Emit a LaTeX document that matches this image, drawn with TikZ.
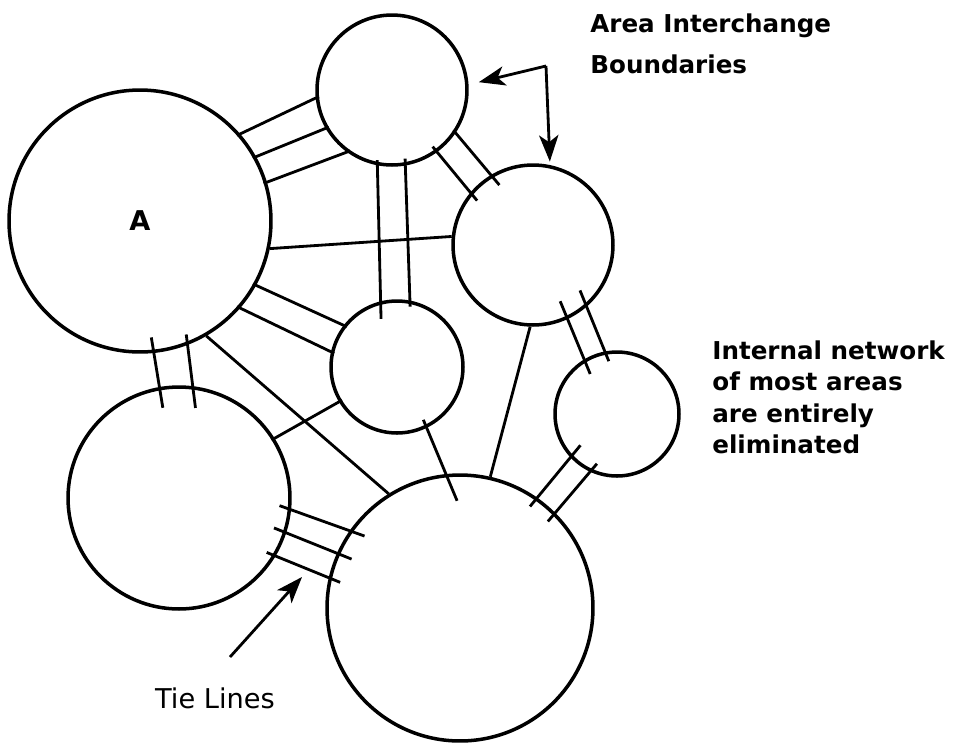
\documentclass[tikz,border=0pt]{standalone}
\usepackage{fontspec}
\setmainfont{DejaVu Sans}
\usepackage{xcolor}
\usepackage{tikz}
\usetikzlibrary{arrows.meta}

\begin{document}
\begin{tikzpicture}[x=0.02cm, y=-0.02cm,
  area/.style={draw, circle, line width=2pt, inner sep=0pt, minimum size=#1},
  tie/.style 2 args={line width=1.6pt, shorten <=-#1, shorten >=-#2},
  link/.style={line width=1.6pt},
  pointer/.style={line width=1.6pt, -{Stealth[length=15pt, width=11pt, inset=4pt]}},
  label/.style={font=\bfseries\fontsize{14}{#1}\selectfont, align=left, inner sep=0pt, anchor=north west}]
\useasboundingbox (0,0) rectangle (953,745);

% areas
\node[area=5.24cm, font=\bfseries\fontsize{15.5}{18}\selectfont] (A) at (140,221) {A};
\node[area=3.0cm] (T) at (392,90) {};
\node[area=3.2cm] (R) at (533,245) {};
\node[area=2.64cm] (M) at (397,367) {};
\node[area=2.48cm] (S) at (617,414) {};
\node[area=4.44cm] (L) at (179,498) {};
\node[area=5.32cm] (B) at (460,608) {};

% tie lines
\draw[tie={2pt}{2pt}] (A.41) -- (T.186);
\draw[tie={2pt}{2pt}] (A.29) -- (T.210);
\draw[tie={2pt}{2pt}] (A.17) -- (T.234);
\draw[link] (A.348) -- (R.174);
\draw[tie={2pt}{7.5pt}] (T.326) -- (R.121);
\draw[tie={4pt}{6pt}] (T.306) -- (R.140);
\draw[tie={3pt}{10pt}] (T.259) -- (M.104);
\draw[tie={4pt}{3.5pt}] (T.280) -- (M.79);
\draw[tie={2pt}{2pt}] (A.331) -- (M.142);
\draw[tie={2pt}{2pt}] (A.319) -- (M.167);
\draw[tie={9pt}{12pt}] (A.276) -- (L.100);
\draw[tie={6pt}{12.5pt}] (A.291) -- (L.83);
\draw[link] (A.300) -- (B.122);
\draw[tie={2pt}{2pt}] (L.32) -- (M.211);
\draw[tie={5pt}{16.5pt}] (M.296) -- (B.96);
\draw[link] (R.268) -- (B.77);
\draw[tie={11pt}{9pt}] (R.295) -- (S.121);
\draw[tie={10pt}{6pt}] (R.311) -- (S.101);
\draw[tie={9pt}{6.5pt}] (S.223) -- (B.55);
\draw[tie={6pt}{6.5pt}] (S.245) -- (B.45);
\draw[tie={7pt}{9pt}] (L.354) -- (B.145);
\draw[tie={7.5pt}{9pt}] (L.342) -- (B.156);
\draw[tie={5.5pt}{7pt}] (L.329) -- (B.167);

% labels
\node[label=23.5pt] (boundlab) at (590,13) {Area Interchange\\Boundaries};
\node[label=18pt] (netlab) at (712,340) {Internal network\\of most areas\\are entirely\\eliminated};
\node[font=\fontsize{15.5}{18}\selectfont, inner sep=0pt] (tielab) at (215,698) {Tie Lines};

% pointers
\coordinate (bstart) at (546,66);
\coordinate (tietail) at (230,657);
\coordinate (tietip) at (302,577);
\draw[pointer, shorten >=6pt] (bstart) -- (T.4);
\draw[pointer, shorten >=2pt] (bstart) -- (R.78);
\draw[pointer] (tietail) -- (tietip);
\end{tikzpicture}
\end{document}
